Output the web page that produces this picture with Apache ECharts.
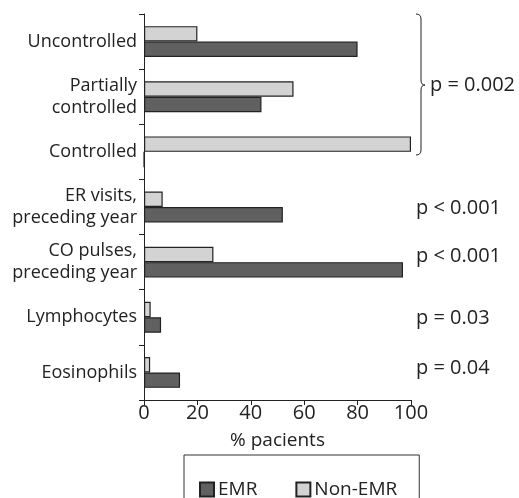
<!DOCTYPE html>
<html><head><meta charset="utf-8">
<script src="https://cdn.jsdelivr.net/npm/echarts@6/dist/echarts.min.js"></script>
<style>html,body{margin:0;padding:0;background:#fff}#c{width:519px;height:498px}</style>
</head><body><div id="c"></div>
<script>
const categories = ['Uncontrolled', 'Partially\ncontrolled', 'Controlled', 'ER visits,\npreceding year', 'CO pulses,\npreceding year', 'Lymphocytes', 'Eosinophils'];
const nonEmr = [20, 56, 100, 7, 26, 2.5, 2.3];
const emr = [80, 44, 0, 52, 97, 6.4, 13.5];
const pLabels = ['p < 0.001', 'p < 0.001', 'p = 0.03', 'p = 0.04'];
const pCats = [3, 4, 5, 6];
const groupP = 'p = 0.002';
const xTicks = [0, 20, 40, 60, 80, 100];

const pOffsets = [1, -6, 1, -4];
const FONT = 'Open Sans';
const TXT = '#222';
const chart = echarts.init(document.getElementById('c'), null, {renderer: 'canvas'});
const border = {borderColor: '#222', borderWidth: 1.2};
chart.setOption({
  animation: false,
  textStyle: {fontFamily: FONT},
  grid: {left: 144, right: 108, top: 14, bottom: 98, containLabel: false},
  xAxis: {
    type: 'value', min: xTicks[0], max: xTicks[xTicks.length - 1], interval: 20,
    axisLine: {show: true, lineStyle: {color: '#222', width: 1}},
    axisTick: {show: true, length: 5, lineStyle: {color: '#222'}},
    splitLine: {show: false},
    axisLabel: {fontSize: 20, color: TXT, fontFamily: FONT, margin: 3},
    name: '% pacients', nameLocation: 'middle', nameGap: 31,
    nameTextStyle: {fontSize: 19, color: TXT, fontFamily: FONT}
  },
  yAxis: {
    type: 'category', inverse: true, data: categories,
    axisLine: {show: true, lineStyle: {color: '#222', width: 1}},
    axisTick: {show: true, length: 5, lineStyle: {color: '#222'}},
    axisLabel: {fontSize: 18, color: TXT, fontFamily: FONT, margin: 7, lineHeight: 22, align: 'right'}
  },
  legend: {
    data: ['EMR', 'Non-EMR'], left: 184, top: 455,
    icon: 'rect', itemWidth: 14, itemHeight: 14, itemGap: 38,
    padding: [25, 22, 20, 15],
    borderColor: '#333', borderWidth: 1,
    textStyle: {fontSize: 19, color: TXT, fontFamily: FONT, padding: [0, 0, 0, -1]}
  },
  series: [
    {name: 'Non-EMR', type: 'bar', data: nonEmr, barGap: '0%', barCategoryGap: '44%',
     itemStyle: Object.assign({color: '#d3d3d3'}, border)},
    {name: 'EMR', type: 'bar', data: emr, barGap: '0%', barCategoryGap: '44%',
     itemStyle: Object.assign({color: '#606060'}, border)}
  ]
});

const graphics = [];
// brace around the first three categories
const yTop = 14, yBot = 155, yMid = 85;
const x0 = 416, x1 = 421, x2 = 425, r = 5;
const ls = {stroke: '#222', lineWidth: 1, fill: null};
graphics.push({type: 'bezierCurve', shape: {x1: x0, y1: yTop, x2: x1, y2: yTop + r, cpx1: x1, cpy1: yTop}, style: ls});
graphics.push({type: 'line', shape: {x1: x1, y1: yTop + r, x2: x1, y2: yMid - r}, style: ls});
graphics.push({type: 'bezierCurve', shape: {x1: x1, y1: yMid - r, x2: x2, y2: yMid, cpx1: x1, cpy1: yMid}, style: ls});
graphics.push({type: 'bezierCurve', shape: {x1: x2, y1: yMid, x2: x1, y2: yMid + r, cpx1: x1, cpy1: yMid}, style: ls});
graphics.push({type: 'line', shape: {x1: x1, y1: yMid + r, x2: x1, y2: yBot - r}, style: ls});
graphics.push({type: 'bezierCurve', shape: {x1: x1, y1: yBot - r, x2: x0, y2: yBot, cpx1: x1, cpy1: yBot}, style: ls});
graphics.push({type: 'text', x: 430, y: yMid, style: {text: groupP, fontSize: 20, fill: TXT, fontFamily: FONT, verticalAlign: 'middle'}});
pCats.forEach((ci, i) => {
  const y = chart.convertToPixel({yAxisIndex: 0}, categories[ci]) + pOffsets[i];
  graphics.push({type: 'text', x: 416, y: y, style: {text: pLabels[i], fontSize: 20, fill: TXT, fontFamily: FONT, verticalAlign: 'middle'}});
});
chart.setOption({graphic: graphics});
</script></body></html>
